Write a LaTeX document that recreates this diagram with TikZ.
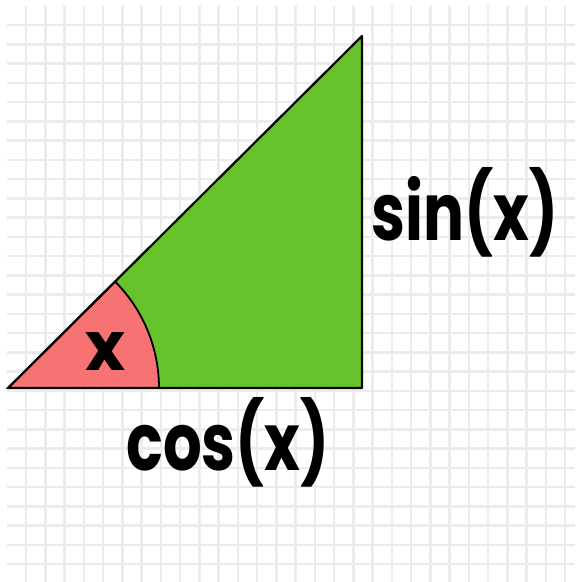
\documentclass[tikz,border=0pt]{standalone}
\usepackage{fontspec}
\setmainfont{Poppins}
\usepackage{tikz}
\definecolor{leafgreen}{HTML}{66C22A}
\definecolor{salmonred}{HTML}{F77272}
\definecolor{gridgray}{HTML}{ECECEC}
\tikzset{
  gridline/.style={gridgray,line width=2.5},
  trilabel/.style={font=\fontsize{80}{80}\selectfont\bfseries,xscale=0.76,inner sep=0}
}

\begin{document}
\begin{tikzpicture}[x=1pt,y=-1pt]
\useasboundingbox (0,0) rectangle (580,582);
\fill[white] (0,0) rectangle (580,582);
\foreach \k in {0,...,28}{
  \draw[gridline] (26+19.25*\k,6) -- (26+19.25*\k,582);
  \draw[gridline] (7,25+19.25*\k) -- (575,25+19.25*\k);
}
\coordinate (A) at (8,388);
\coordinate (B) at (362,388);
\coordinate (C) at (362,36);
\fill[leafgreen] (A) -- (B) -- (C) -- cycle;
\filldraw[fill=salmonred,line width=1.8] (A) -- ++(151,0) arc[start angle=0,end angle=-44.84,radius=151] -- cycle;
\draw[line width=2.2,line join=round] (A) -- (B) -- (C) -- cycle;
\node[font=\fontsize{68}{68}\selectfont\bfseries,inner sep=0] (anglelabel) at (105,352) {x};
\node[trilabel] (sinlabel) at (465,212) {sin(x)};
\node[trilabel] (coslabel) at (228,442) {cos(x)};
\end{tikzpicture}
\end{document}
